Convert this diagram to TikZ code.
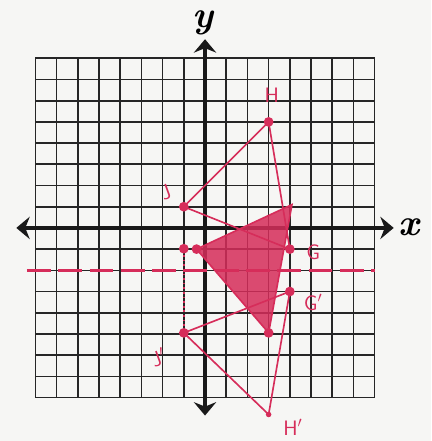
\documentclass[tikz,border=0pt]{standalone}
\usepackage{tikz}
\usetikzlibrary{arrows.meta, calc}
\definecolor{penred}{RGB}{214,45,90}
\definecolor{paper}{RGB}{246,246,244}
\tikzset{
    gridline/.style={line width=1.1pt, black!85},
    axisline/.style={line width=2.8pt, black!90, {Stealth[length=9pt, width=15pt, inset=3pt]}-{Stealth[length=9pt, width=15pt, inset=3pt]}},
    penline/.style={line width=1.1pt, penred},
    pendot/.style={circle, fill=penred, inner sep=0pt, minimum size=2.3mm},
    penlbl/.style={font=\sffamily\fontsize{14}{14}\selectfont, text=penred},
}

\begin{document}
\begin{tikzpicture}[
    x=5mm, y=5mm,
    axlbl/.style={font=\fontsize{25}{25}\selectfont\bfseries\itshape},
    hatch/.style={fill=penred, fill opacity=0.85},
]

% paper
\fill[paper] (-9.67,-10.05) rectangle (10.66,10.75);
\useasboundingbox (-9.67,-10.05) rectangle (10.66,10.75);

\draw[gridline, step=1] (-8,-8) grid (8,8);

% axes
\coordinate (xmin) at (-8.9,0);
\coordinate (xmax) at (8.9,0);
\coordinate (ymin) at (0,-8.85);
\coordinate (ymax) at (0,8.9);
\draw[axisline] (xmin) -- (xmax);
\draw[axisline] (ymin) -- (ymax);
\node[axlbl] (xl) at (9.6,0.05) {x};
\node[axlbl] (yl) at (-0.1,9.65) {y};

% triangle HJG and its images
\coordinate (H) at (3,5);
\coordinate (J) at (-1,1);
\coordinate (G) at (4,-1);
\coordinate (Hp) at (3,-8.8);
\coordinate (Jp) at (-1,-4.95);
\coordinate (Gp) at (4,-3);
\coordinate (Hr) at (3,-4.95);
\coordinate (Jr) at (-0.4,-1);
\coordinate (Gr) at (4.1,1.1);
\coordinate (Jd) at (-1,-0.98);

% mirror line y=-2
\coordinate (ml) at (-8.4,-2);
\coordinate (mr) at (8,-2);
\draw[penline, line width=1.8pt, dash pattern=on 16pt off 5pt] (ml) -- (mr);
\draw[penline, dotted] ($(Jd)+(0,-0.3)$) -- ($(Jp)+(0,0.3)$);

\fill[hatch] (Jr) -- (Gr) -- (Hr) -- cycle;
\draw[penline] (Jr) -- (Gr) -- (Hr) -- cycle;

\draw[penline] (H) -- (J) -- (G) -- cycle;
\draw[penline] (Hp) -- (Jp) -- (Gp) -- cycle;

\foreach \p in {H, J, G, Jp, Gp, Hr, Jr, Jd}
    \node[pendot] (d\p) at (\p) {};
\node[pendot, minimum size=1.3mm] (dHp) at (Hp) {};

\node[penlbl] (lH) at (3.15,6.25) {H};
\node[penlbl, rotate=20] (lJ) at (-1.85,1.7) {J};
\node[penlbl] (lG) at (5.1,-1.15) {G};
\node[penlbl] (lGp) at (5.1,-3.5) {G$'$};
\node[penlbl, rotate=20] (lJp) at (-2.2,-6.1) {J$'$};
\node[penlbl] (lHp) at (4.15,-9.4) {H$'$};

\end{tikzpicture}
\end{document}
